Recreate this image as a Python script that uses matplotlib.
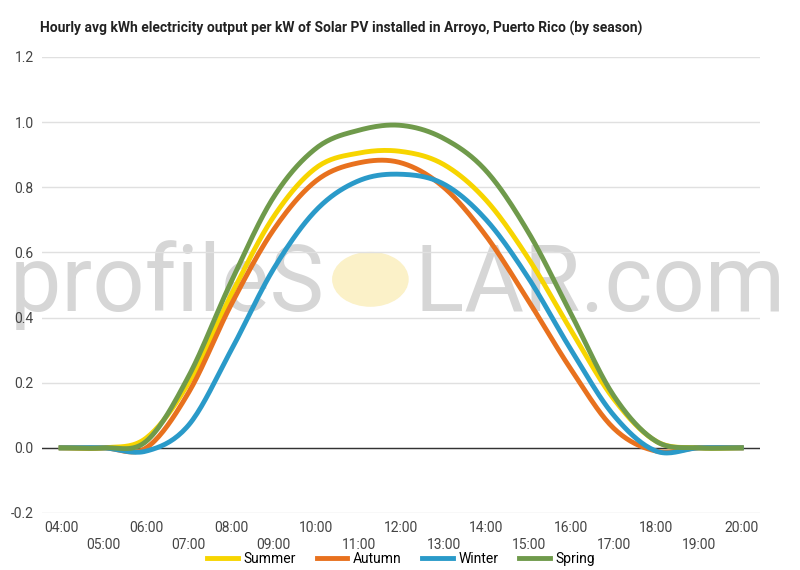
import matplotlib
matplotlib.use("Agg")
import matplotlib.pyplot as plt
import numpy as np
from matplotlib.patches import Circle

hours = list(range(4, 21))
summer = [0, 0, 0.03, 0.20, 0.47, 0.71, 0.86, 0.905, 0.91, 0.87, 0.76, 0.58, 0.36, 0.15, 0.02, 0, 0]
autumn = [0, 0, 0.00, 0.17, 0.44, 0.67, 0.82, 0.875, 0.875, 0.80, 0.65, 0.45, 0.24, 0.06, -0.01, 0, 0]
winter = [0, 0, -0.01, 0.07, 0.30, 0.55, 0.73, 0.82, 0.84, 0.81, 0.70, 0.52, 0.30, 0.10, -0.01, 0, 0]
spring = [0, 0, 0.02, 0.22, 0.51, 0.77, 0.92, 0.975, 0.99, 0.95, 0.85, 0.66, 0.41, 0.16, 0.02, 0, 0]
series = [("Summer", summer, "#f7d500"), ("Autumn", autumn, "#e8711e"),
          ("Winter", winter, "#2a9ac9"), ("Spring", spring, "#6f9a4b")]
tick_labels = [f"{h:02d}:00" for h in hours]

def smooth(x, y, n=20):
    x = np.asarray(x, float); y = np.asarray(y, float)
    xs, ys = [], []
    for i in range(len(x) - 1):
        p0 = y[max(i - 1, 0)]; p1 = y[i]; p2 = y[i + 1]; p3 = y[min(i + 2, len(y) - 1)]
        t = np.linspace(0, 1, n, endpoint=False)
        yy = 0.5 * (2 * p1 + (-p0 + p2) * t + (2 * p0 - 5 * p1 + 4 * p2 - p3) * t**2 + (-p0 + 3 * p1 - 3 * p2 + p3) * t**3)
        xs.append(x[i] + t * (x[i + 1] - x[i])); ys.append(yy)
    xs.append([x[-1]]); ys.append([y[-1]])
    return np.concatenate(xs), np.concatenate(ys)

plt.rcParams['font.family'] = ['Roboto', 'DejaVu Sans']
fig = plt.figure(figsize=(8, 5.7), dpi=100)
ax = fig.add_axes([0.0525, 0.10, 0.898, 0.80])
ax.set_xlim(3.55, 20.45)
ax.set_ylim(-0.2, 1.2)
ax.set_yticks(np.arange(-0.2, 1.21, 0.2))
ax.set_yticklabels([f"{v:.1f}" for v in np.arange(-0.2, 1.21, 0.2)], fontsize=10, color="#444")
ax.set_xticks(hours)
ax.set_xticklabels([l if i % 2 == 0 else "\n" + l for i, l in enumerate(tick_labels)], fontsize=10, color="#444")
ax.grid(axis='y', color="#e0e0e0", lw=1)
ax.axhline(0, color="#333", lw=1, zorder=2)
for s in ax.spines.values():
    s.set_visible(False)
ax.tick_params(length=0, pad=6)

fig.text(0.497, 0.5, "profileS    LAR.com", fontsize=66, color="#d6d6d6", ha="center", va="center", zorder=0)
fig.add_artist(Circle((0.463, 0.51), 0.047, transform=fig.transFigure, color="#fbf1c8", zorder=0.5))
ax.set_facecolor("none")
ax.set_zorder(1)

for name, vals, c in series:
    xs, ys = smooth(hours, vals)
    ax.plot(xs, ys, color=c, lw=3.5, label=name, zorder=3)

fig.text(0.05, 0.95, "Hourly avg kWh electricity output per kW of Solar PV installed in Arroyo, Puerto Rico (by season)",
         fontsize=10, fontweight="bold", color="#222", va="center")
ax.legend(loc="lower center", bbox_to_anchor=(0.5, -0.135), ncol=4, frameon=False, fontsize=10,
          handlelength=2.2, columnspacing=1.5, handletextpad=0.4, borderpad=0.1)
fig.savefig("out.png", dpi=100)
